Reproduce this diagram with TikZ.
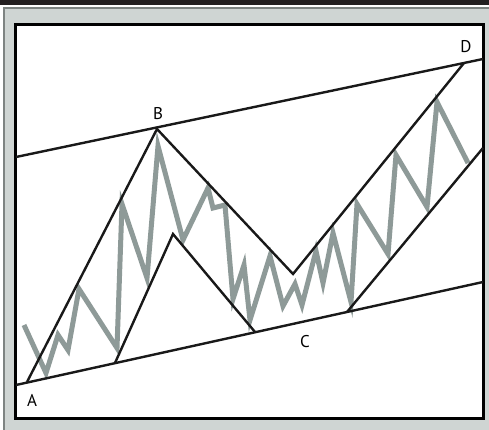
\documentclass[tikz,border=0pt]{standalone}
\usepackage{fontspec}
\setmainfont{PT Sans}
\definecolor{panelgray}{HTML}{CFD5D3}
\definecolor{panelline}{HTML}{7E8482}
\definecolor{topbar}{HTML}{231F20}
\definecolor{wavegray}{HTML}{8E9A98}
\begin{document}
\begin{tikzpicture}[x=1pt,y=-1pt,
  chan/.style={draw=black!90,line width=2.4pt,line join=miter},
  wave/.style={draw=wavegray,line width=5pt,line join=miter},
  lbl/.style={font=\fontsize{17}{17}\selectfont,inner sep=0pt}]
\useasboundingbox (0,0) rectangle (489,430);
% background
\fill[topbar] (0,0) rectangle (489,5);
\fill[white] (0,5) rectangle (489,7);
\filldraw[fill=panelgray,draw=panelline,line width=1.5pt] (4,8) rectangle (495,435);
\filldraw[fill=white,draw=black,line width=3pt] (15,25) rectangle (483.5,418);
% key points
\coordinate (L1) at (16,385);
\coordinate (R1) at (483,282);
\coordinate (L2) at (16,157);
\coordinate (R2) at (483,59);
\coordinate (A) at (27,382);
\coordinate (B) at (157,129);
\coordinate (V) at (293,274);
\coordinate (D) at (464,63);
\coordinate (P1) at (115,363);
\coordinate (P2) at (173,234);
\coordinate (P3) at (255,332);
\coordinate (Q1) at (347,312);
\coordinate (Q2) at (483,148);
% grey price wave
\draw[wave] (24,325) -- (46,373) -- (58,335) -- (68,350) -- (79,289) -- (117,348)
  -- (122,204) -- (147,278) -- (158,146) -- (183,240) -- (208,188) -- (213,208)
  -- (225,205) -- (233,299) -- (244,265) -- (250,320) -- (270,256) -- (283,306)
  -- (295,284) -- (302,305) -- (316,251) -- (323,283) -- (333,233) -- (351,302)
  -- (357,204) -- (388,254) -- (396,155) -- (427,207) -- (437,102) -- (468,163);
% channel lines
\draw[chan] (L1) -- (R1);
\draw[chan] (L2) -- (R2);
\draw[chan] (A) -- (B) -- (V) -- (D);
\draw[chan] (P1) -- (P2) -- (P3);
\draw[chan] (Q1) -- (Q2);
% labels
\node[lbl] (lA) at (32,400) {A};
\node[lbl] (lB) at (158,114) {B};
\node[lbl] (lC) at (305,342) {C};
\node[lbl] (lD) at (466,47) {D};
\end{tikzpicture}
\end{document}
